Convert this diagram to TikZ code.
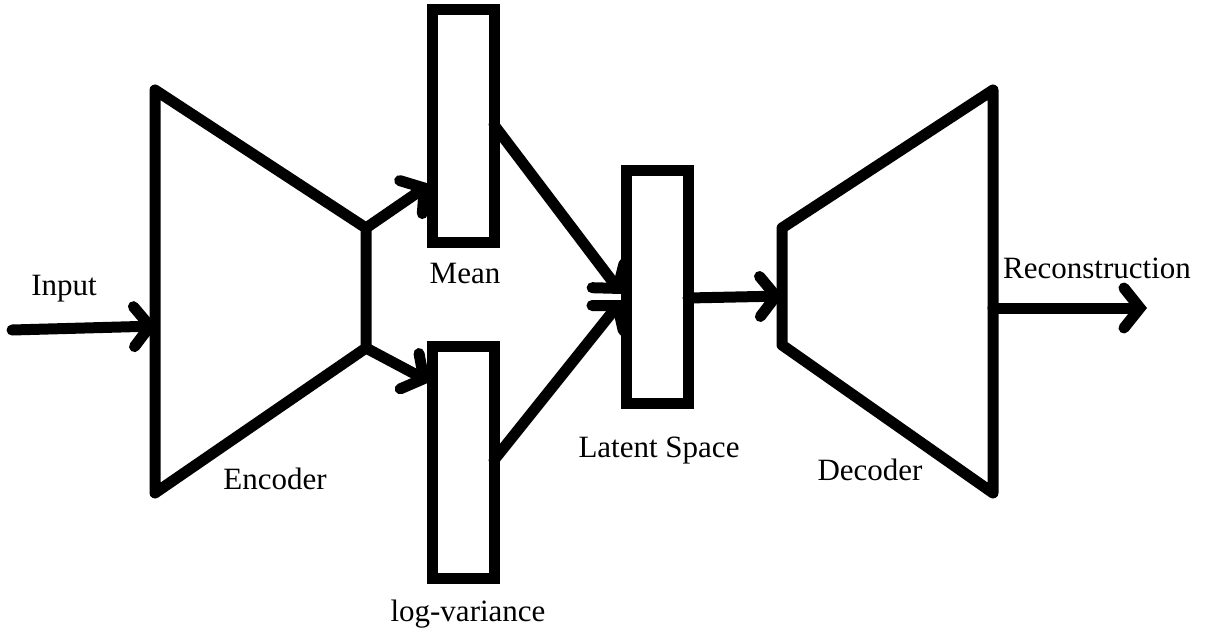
\documentclass[tikz,border=0pt]{standalone}
\usepackage{fontspec}
\setmainfont{Liberation Serif}
\usetikzlibrary{arrows.meta}
\begin{document}
\begin{tikzpicture}[x=1pt,y=-1pt,
  thick line/.style={line width=11pt,line cap=round,line join=round},
  box/.style={draw,line width=11pt,line join=miter,minimum width=62pt,minimum height=232pt,inner sep=0pt,outer sep=0pt},
  barb/.style={-{Straight Barb[length=16pt,width=40pt,line cap=round]}},
  lbl/.style={font=\fontsize{31}{36}\selectfont,inner sep=0pt}]
\useasboundingbox (0,0) rectangle (1205,634);
% encoder
\coordinate (e1) at (155,90);
\coordinate (e2) at (366,228);
\coordinate (e3) at (366,348);
\coordinate (e4) at (155,493);
\draw[thick line] (e1) -- (e2) -- (e3) -- (e4) -- cycle;
% decoder
\coordinate (d1) at (782,228);
\coordinate (d2) at (993,90);
\coordinate (d3) at (993,493);
\coordinate (d4) at (782,345);
\draw[thick line] (d1) -- (d2) -- (d3) -- (d4) -- cycle;
% boxes
\node[box] (mean) at (463,126) {};
\node[box] (logvar) at (463,462.5) {};
\node[box, minimum height=233pt] (latent) at (657,286.5) {};
% input
\coordinate (in) at (12,330);
\coordinate (encin) at (157,326);
\draw[thick line,barb] (in) -- (encin);
% encoder to mean / logvar
\coordinate (mtgt) at (430,184);
\coordinate (ltgt) at (430,382);
\draw[thick line,barb] (e2) -- (mtgt);
\draw[thick line,barb] (e3) -- (ltgt);
% mean/logvar to latent
\coordinate (mo) at (494,125);
\coordinate (lo) at (494,460);
\coordinate (lat1) at (622,294);
\coordinate (lat2) at (622,300);
\draw[thick line,barb] (mo) -- (lat1);
\draw[thick line,barb] (lo) -- (lat2);
% latent to decoder
\coordinate (lato) at (688,298);
\coordinate (decin) at (783,296);
\draw[thick line,barb] (lato) -- (decin);
% output
\coordinate (outs) at (993,308);
\coordinate (oute) at (1147,308);
\draw[thick line,barb] (outs) -- (oute);
% labels
\node[lbl] (tin) at (64,289) {Input};
\node[lbl] (tmean) at (465,274) {Mean};
\node[lbl] (tlv) at (468,614) {log-variance};
\node[lbl] (tenc) at (275,479) {Encoder};
\node[lbl] (tlat) at (659,451) {Latent Space};
\node[lbl] (tdec) at (870,470) {Decoder};
\node[lbl] (trec) at (1097,268) {Reconstruction};
\end{tikzpicture}
\end{document}
